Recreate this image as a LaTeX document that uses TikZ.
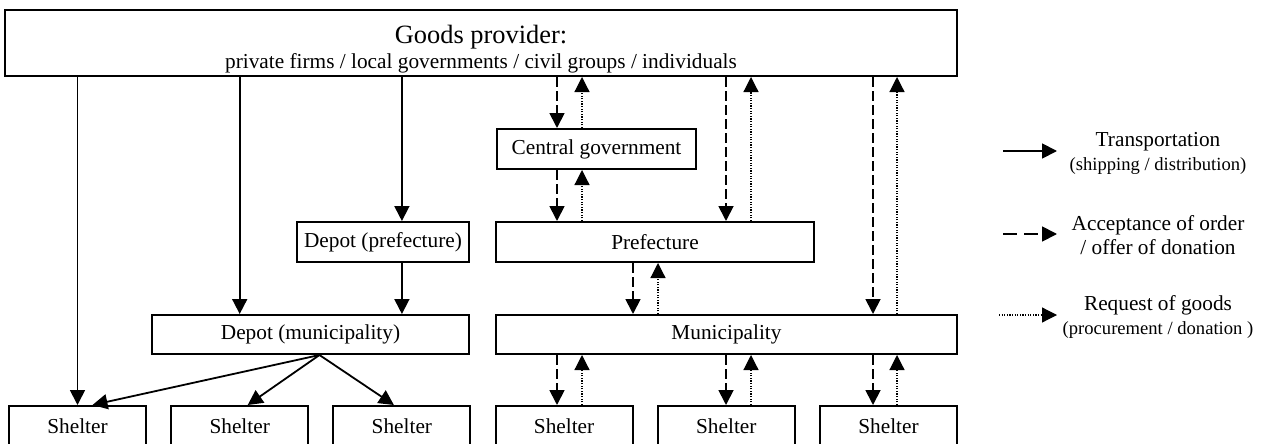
\documentclass[tikz,border=0pt]{standalone}
\usepackage{fontspec}
\setmainfont{Liberation Serif}
\usetikzlibrary{arrows.meta,calc}

\tikzset{
  box/.style={draw,line width=2pt,minimum height=40pt,inner sep=0pt,font=\fontsize{21.3}{24}\selectfont},
  ship/.style={line width=1.8pt,-{Triangle[length=15pt,width=15pt]}},
  order/.style={ship,dash pattern=on 10pt off 4pt},
  request/.style={line width=1.2pt,dash pattern=on 1.2pt off 1.4pt,-{Triangle[length=15pt,width=15pt]}},
  keytext/.style={align=center,font=\fontsize{21.3}{24}\selectfont}
}

\begin{document}
\begin{tikzpicture}[x=1pt,y=-1pt,color=black]
\useasboundingbox (0,0) rectangle (1266,444);

\node (prov) at (481,43)[box,minimum width=952pt,minimum height=66pt,align=center]{\rule{0pt}{30pt}{\fontsize{26.4}{28}\selectfont Goods provider:}\\[1pt] private firms / local governments / civil groups / individuals};

\node (central) at (596.5,149)[box,minimum width=199pt]{Central government};
\node (deppref) at (383,242)[box,minimum width=172pt]{Depot (prefecture)};
\node (pref) at (655,242)[box,minimum width=318pt]{Prefecture};
\node (depmuni) at (310.5,334.5)[box,minimum width=317pt,minimum height=39pt]{Depot (municipality)};
\node (muni) at (726.5,334.5)[box,minimum width=461pt,minimum height=39pt]{Municipality};

\foreach \i in {1,...,6}
{
\node (s\i) at ({77.5+162.2*(\i-1)},426)[box,minimum width=137pt]{Shelter};
}

% columns of the order / request pairs
\coordinate (o1) at (557,0);
\coordinate (r1) at (582,0);
\coordinate (o2) at (726,0);
\coordinate (r2) at (751,0);
\coordinate (o3) at (873,0);
\coordinate (r3) at (897,0);
\coordinate (o4) at (633,0);
\coordinate (r4) at (658,0);

% transportation
\draw[ship] (prov.south -| s1.north) -- (s1.north);
\draw[ship] (prov.south -| s2.north) -- (s2.north |- depmuni.north);
\draw[ship] (prov.south -| s3.north) -- (s3.north |- deppref.north);
\draw[ship] (s3.north |- deppref.south) -- (s3.north |- depmuni.north);
\coordinate (dm) at ([xshift=9pt]depmuni.south);
\draw[ship] (dm) -- ([xshift=15pt]s1.north);
\draw[ship] (dm) -- ([xshift=8pt]s2.north);
\draw[ship] (dm) -- ([xshift=-8pt]s3.north);

% orders and requests
\foreach \a/\b in {prov/central,central/pref}
{
\draw[order] (\a.south -| o1) -- (\b.north -| o1);
\draw[request] (\b.north -| r1) -- (\a.south -| r1);
}
\draw[order] (prov.south -| o2) -- (pref.north -| o2);
\draw[request] (pref.north -| r2) -- (prov.south -| r2);
\draw[order] (prov.south -| o3) -- (muni.north -| o3);
\draw[request] (muni.north -| r3) -- (prov.south -| r3);
\draw[order] (pref.south -| o4) -- (muni.north -| o4);
\draw[request] (muni.north -| r4) -- (pref.south -| r4);

\foreach \c/\s in {1/4,2/5,3/6}
{
\draw[order] (muni.south -| o\c) -- (s\s.north -| o\c);
\draw[request] (s\s.north -| r\c) -- (muni.south -| r\c);
}

% legend
\coordinate (k1a) at (1003,151);
\coordinate (k1b) at (1057,151);
\coordinate (k2a) at (1003,234);
\coordinate (k2b) at (1057,234);
\coordinate (k3a) at (999,315);
\coordinate (k3b) at (1057,315);
\draw[ship] (k1a) -- (k1b);
\draw[order,dash pattern=on 14pt off 7pt] (k2a) -- (k2b);
\draw[request] (k3a) -- (k3b);

\node (key1) at (1158,153)[keytext]{Transportation\\{\fontsize{18.6}{22}\selectfont (shipping / distribution)}};
\node (key2) at (1158,235)[keytext]{Acceptance of order\\ / offer of donation};
\node (key3) at (1158,316.5)[keytext]{Request of goods\\{\fontsize{18.6}{22}\selectfont (procurement / donation )}};

\end{tikzpicture}
\end{document}
